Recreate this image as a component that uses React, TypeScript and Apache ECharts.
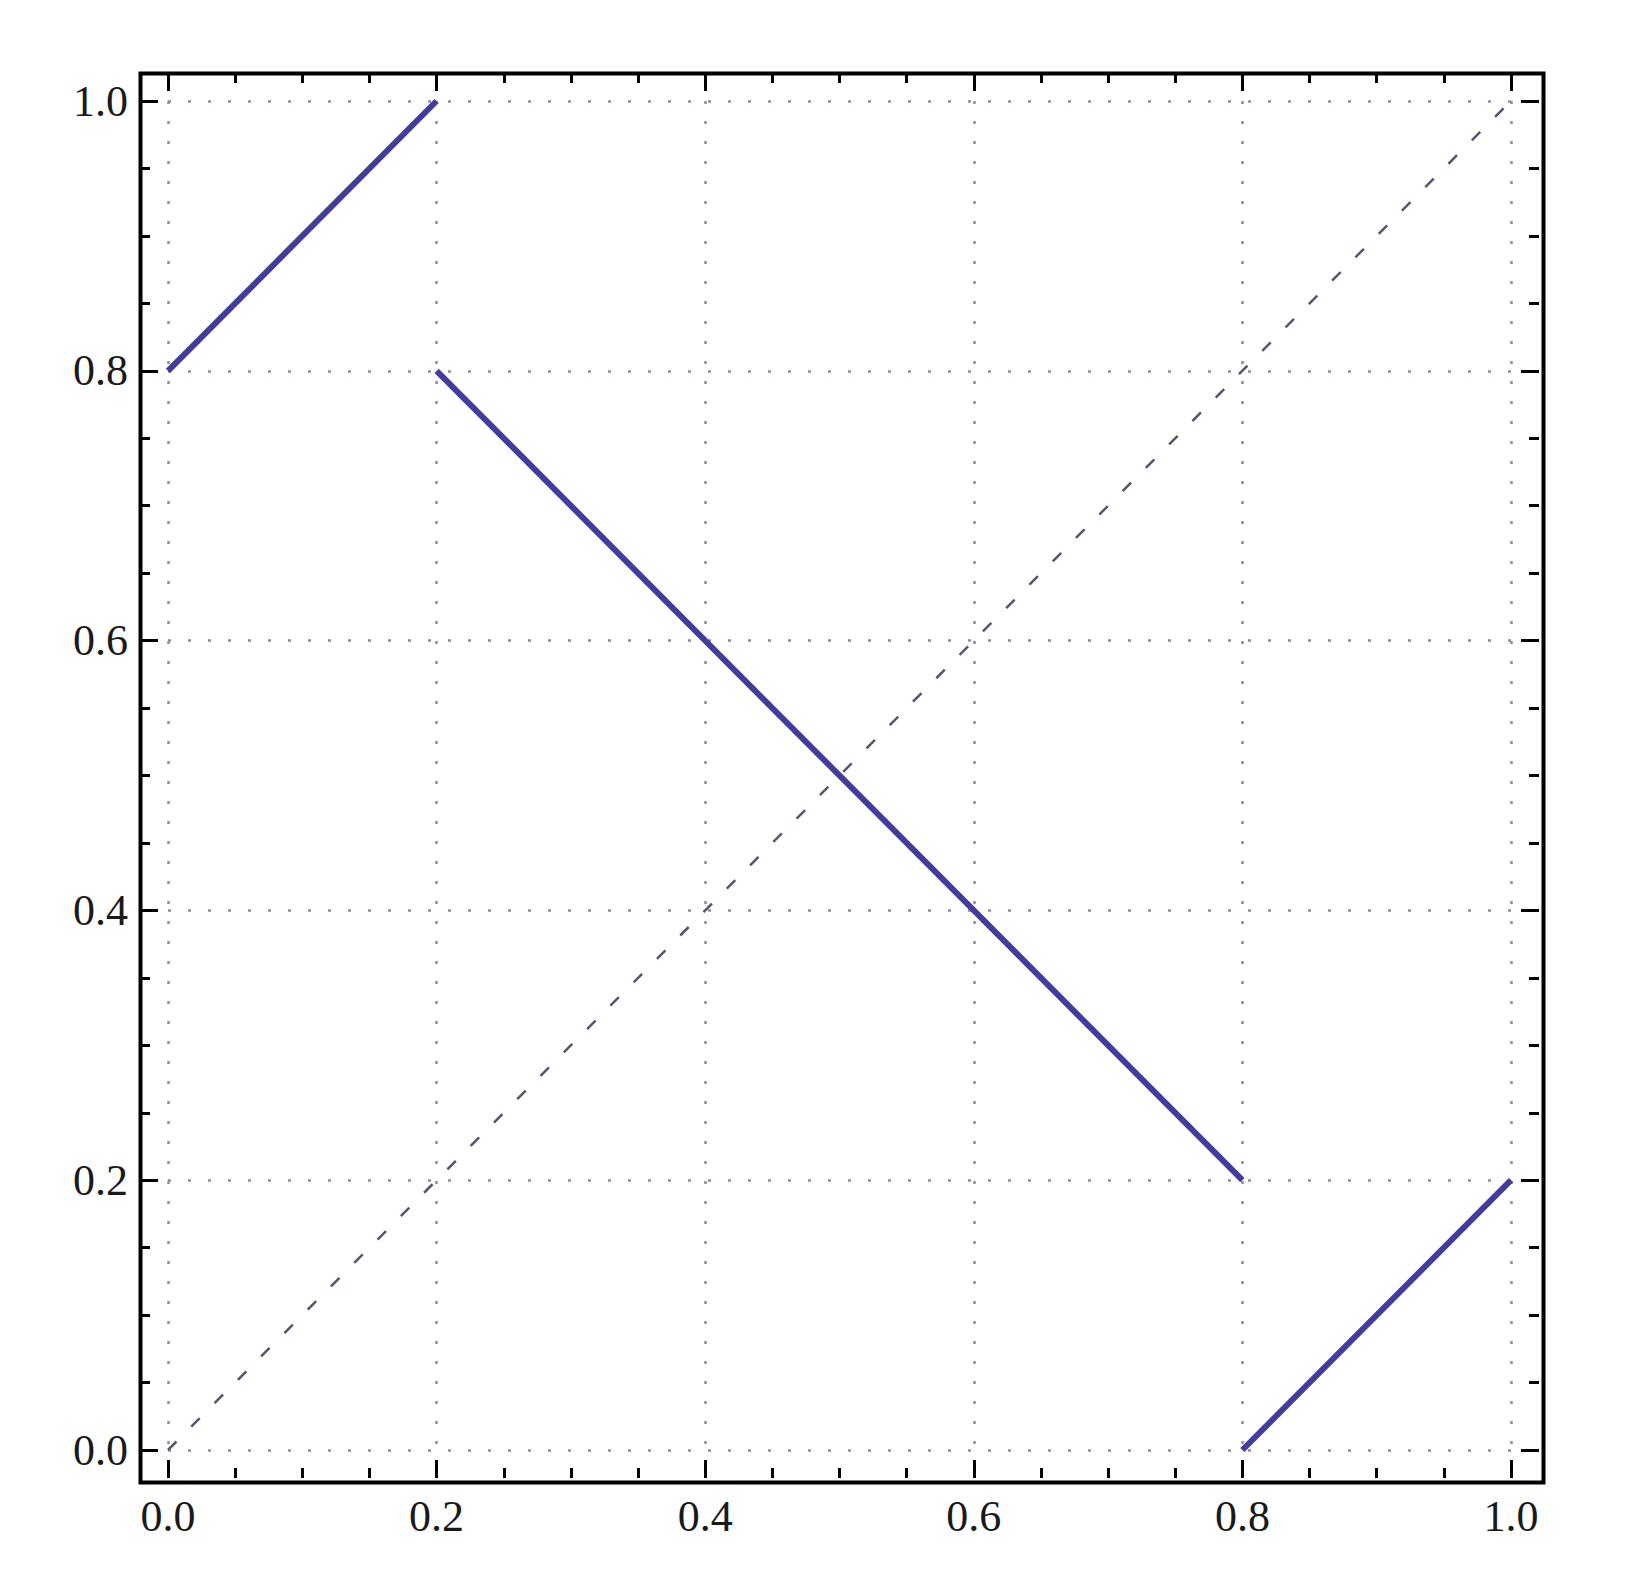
import React, { useEffect, useRef } from "react";
import * as echarts from "echarts";

// Piecewise map (solid) and identity reference line (dashed)
const segmentA: number[][] = [[0, 0.8], [0.2, 1.0]];
const segmentB: number[][] = [[0.2, 0.8], [0.8, 0.2]];
const segmentC: number[][] = [[0.8, 0.0], [1.0, 0.2]];
const identityLine: number[][] = [[0, 0], [1, 1]];

const axisMin = 0;
const axisMax = 1;
const majorStep = 0.2;
const tickLabels = ["0.0", "0.2", "0.4", "0.6", "0.8", "1.0"];

const LINE_COLOR = "#433c9e";
const LABEL_FONT = "'Liberation Serif', 'DejaVu Serif', serif";

export default function App() {
  const ref = useRef<HTMLDivElement>(null);

  useEffect(() => {
    if (!ref.current) return;
    const chart = echarts.init(ref.current, undefined, { renderer: "svg" });

    const gridLeft = 168;
    const gridTop = 101;
    const gridW = 1343;
    const gridH = 1349;
    const pad = 28;

    const labelFmt = (v: number) => {
      const i = Math.round(v / majorStep);
      return tickLabels[i] ?? v.toFixed(1);
    };

    const splitLine = {
      show: true,
      lineStyle: { color: "#8e8ca0", width: 2.5, type: [3, 17] as any },
    };

    const baseAxis = (opts: any) => ({
      type: "value",
      min: axisMin,
      max: axisMax,
      interval: majorStep,
      axisLine: { show: false, onZero: false },
      axisTick: { show: true, inside: true, length: 18, lineStyle: { color: "#000", width: 3 } },
      minorTick: { show: true, splitNumber: 4, length: 10, lineStyle: { color: "#000", width: 3 } },
      ...opts,
    });

    const solidSeries = (data: number[][]) => ({
      type: "line",
      data,
      showSymbol: false,
      symbol: "none",
      lineStyle: { color: LINE_COLOR, width: 6 },
      z: 5,
    });

    chart.setOption({
      animation: false,
      backgroundColor: "#ffffff",
      grid: { left: gridLeft, top: gridTop, width: gridW, height: gridH, containLabel: false },
      xAxis: [
        baseAxis({
          position: "bottom",
          offset: pad,
          splitLine,
          axisLabel: {
            show: true,
            margin: 16,
            formatter: labelFmt,
            fontFamily: LABEL_FONT,
            fontSize: 44,
            color: "#1a1a1a",
          },
        }),
        baseAxis({
          position: "top",
          offset: pad,
          splitLine: { show: false },
          axisLabel: { show: false },
        }),
      ],
      yAxis: [
        baseAxis({
          position: "left",
          offset: pad,
          splitLine,
          axisLabel: {
            show: true,
            margin: 12,
            formatter: labelFmt,
            fontFamily: LABEL_FONT,
            fontSize: 44,
            color: "#1a1a1a",
          },
        }),
        baseAxis({
          position: "right",
          offset: pad,
          splitLine: { show: false },
          axisLabel: { show: false },
        }),
      ],
      graphic: [
        {
          type: "rect",
          left: gridLeft - pad - 2,
          top: gridTop - pad - 2,
          shape: { width: gridW + 2 * pad + 4, height: gridH + 2 * pad + 4 },
          style: { fill: "none", stroke: "#000", lineWidth: 4 },
          z: 100,
          silent: true,
        },
      ],
      series: [
        {
          type: "line",
          data: identityLine,
          showSymbol: false,
          symbol: "none",
          lineStyle: { color: "#55556e", width: 2.5, type: [12, 21] as any },
          z: 4,
        },
        solidSeries(segmentA),
        solidSeries(segmentB),
        solidSeries(segmentC),
      ],
    });

    return () => chart.dispose();
  }, []);

  return (
    <div
      ref={ref}
      style={{ position: "fixed", left: 0, top: 0, width: 1638, height: 1595, background: "#fff" }}
    />
  );
}
